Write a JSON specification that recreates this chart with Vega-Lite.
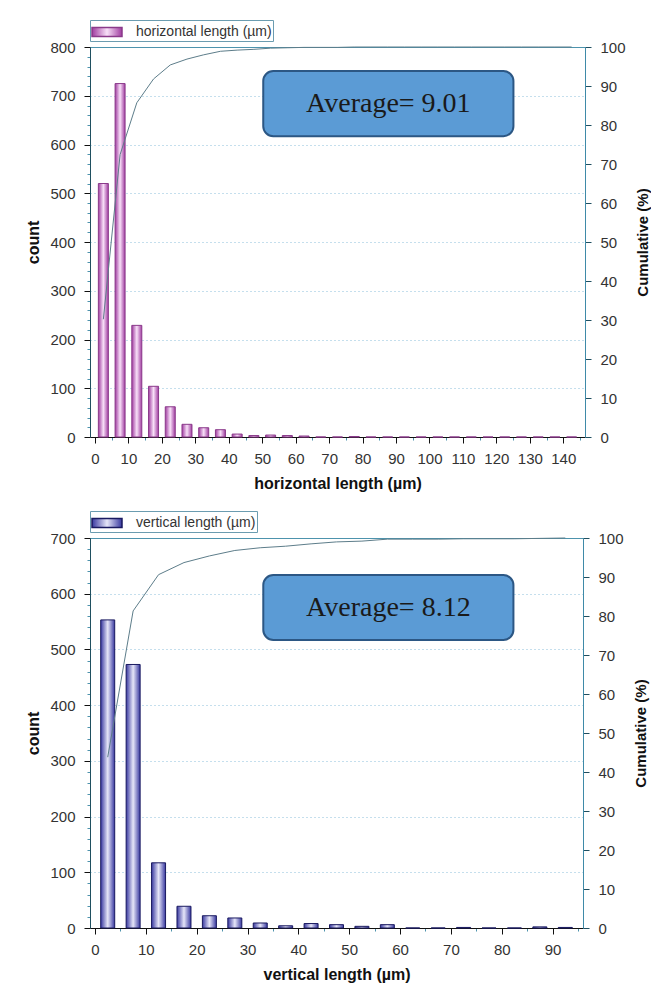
{
  "$schema": "https://vega.github.io/schema/vega-lite/v6.json",
  "background": "white",
  "padding": {"left": 25, "top": 19, "right": 0, "bottom": 5},
  "spacing": 18,
  "resolve": {"scale": {"opacity": "independent"}, "legend": {"opacity": "independent"}},
  "datasets": {
    "h": [
      {"bin": 2.5, "count": 520, "cum": 30.2},
      {"bin": 7.5, "count": 725, "cum": 72.4},
      {"bin": 12.5, "count": 229, "cum": 85.7},
      {"bin": 17.5, "count": 104, "cum": 91.8},
      {"bin": 22.5, "count": 62, "cum": 95.4},
      {"bin": 27.5, "count": 26, "cum": 96.9},
      {"bin": 32.5, "count": 19, "cum": 98.0},
      {"bin": 37.5, "count": 15, "cum": 98.9},
      {"bin": 42.5, "count": 6, "cum": 99.2},
      {"bin": 47.5, "count": 3, "cum": 99.4},
      {"bin": 52.5, "count": 4, "cum": 99.7},
      {"bin": 57.5, "count": 3, "cum": 99.8},
      {"bin": 62.5, "count": 2, "cum": 99.9},
      {"bin": 67.5, "count": 0, "cum": 99.9},
      {"bin": 72.5, "count": 0, "cum": 99.9},
      {"bin": 77.5, "count": 1, "cum": 100},
      {"bin": 82.5, "count": 0, "cum": 100},
      {"bin": 87.5, "count": 0, "cum": 100},
      {"bin": 92.5, "count": 0, "cum": 100},
      {"bin": 97.5, "count": 0, "cum": 100},
      {"bin": 102.5, "count": 0, "cum": 100},
      {"bin": 107.5, "count": 0, "cum": 100},
      {"bin": 112.5, "count": 0, "cum": 100},
      {"bin": 117.5, "count": 0, "cum": 100},
      {"bin": 122.5, "count": 0, "cum": 100},
      {"bin": 127.5, "count": 0, "cum": 100},
      {"bin": 132.5, "count": 0, "cum": 100},
      {"bin": 137.5, "count": 0, "cum": 100},
      {"bin": 142.5, "count": 0, "cum": 100}
    ],
    "v": [
      {"bin": 2.5, "count": 553, "cum": 43.8},
      {"bin": 7.5, "count": 473, "cum": 81.3},
      {"bin": 12.5, "count": 117, "cum": 90.6},
      {"bin": 17.5, "count": 39, "cum": 93.7},
      {"bin": 22.5, "count": 22, "cum": 95.4},
      {"bin": 27.5, "count": 18, "cum": 96.8},
      {"bin": 32.5, "count": 9, "cum": 97.5},
      {"bin": 37.5, "count": 4, "cum": 97.9},
      {"bin": 42.5, "count": 8, "cum": 98.5},
      {"bin": 47.5, "count": 6, "cum": 99.0},
      {"bin": 52.5, "count": 3, "cum": 99.2},
      {"bin": 57.5, "count": 6, "cum": 99.7},
      {"bin": 62.5, "count": 0, "cum": 99.7},
      {"bin": 67.5, "count": 0, "cum": 99.7},
      {"bin": 72.5, "count": 1, "cum": 99.8},
      {"bin": 77.5, "count": 0, "cum": 99.8},
      {"bin": 82.5, "count": 0, "cum": 99.8},
      {"bin": 87.5, "count": 2, "cum": 99.9},
      {"bin": 92.5, "count": 1, "cum": 100}
    ]
  },
  "config": {
    "font": "Liberation Sans",
    "view": {"stroke": "#4d93ad", "strokeWidth": 1},
    "axis": {
      "labelFont": "Liberation Sans",
      "labelFontSize": 15,
      "labelColor": "#333333",
      "titleFont": "Liberation Sans",
      "titleFontSize": 16,
      "titleFontWeight": "bold",
      "titleColor": "#111111",
      "domainColor": "#222222",
      "tickColor": "#222222",
      "labelFlush": false,
      "labelOverlap": false
    },
    "legend": {
      "orient": "top",
      "labelFont": "Liberation Sans",
      "labelFontSize": 14,
      "labelColor": "#333333",
      "strokeColor": "#6b9cb0",
      "padding": 1,
      "offset": 6,
      "labelOffset": 23,
      "symbolType": "M-1,-0.45H2V0.45H-1Z",
      "symbolSize": 400
    }
  },
  "vconcat": [
    {
      "width": 495,
      "height": 390,
      "data": {"name": "h"},
      "layer": [
        {
          "mark": {
            "type": "bar",
            "size": 10,
            "fill": {"gradient": "linear", "x1": 0, "x2": 1, "y1": 0, "y2": 0, "stops": [{"offset": 0, "color": "#a03ca0"}, {"offset": 0.5, "color": "#f8e0f8"}, {"offset": 1, "color": "#a03ca0"}]},
            "stroke": "#8a3a8a",
            "strokeWidth": 1
          },
          "encoding": {
            "x": {
              "field": "bin", "type": "quantitative",
              "scale": {"domain": [0, 145], "nice": false, "zero": false},
              "title": "horizontal length (µm)",
              "axis": {
                "values": [0,5,10,15,20,25,30,35,40,45,50,55,60,65,70,75,80,85,90,95,100,105,110,115,120,125,130,135,140,145],
                "labelExpr": "datum.value % 10 === 0 && datum.value < 145 ? datum.label : ''",
                "tickSize": {"condition": {"test": "datum.value % 10 === 0", "value": 6}, "value": 3},
                "tickColor": {"condition": {"test": "datum.value % 10 === 0", "value": "#111111"}, "value": "#4d93ad"},
                "grid": false, "domainColor": "#111111", "labelPadding": 8, "titlePadding": 9
              }
            },
            "y": {
              "field": "count", "type": "quantitative",
              "scale": {"domain": [0, 800], "nice": false},
              "title": "count",
              "axis": {
                "values": [0,20,40,60,80,100,120,140,160,180,200,220,240,260,280,300,320,340,360,380,400,420,440,460,480,500,520,540,560,580,600,620,640,660,680,700,720,740,760,780,800],
                "labelExpr": "datum.value % 100 === 0 ? datum.label : ''",
                "tickSize": {"condition": {"test": "datum.value % 100 === 0", "value": 6}, "value": 3},
                "tickColor": {"condition": {"test": "datum.value % 100 === 0", "value": "#111111"}, "value": "#4d93ad"},
                "grid": true, "gridColor": "#8cc0dc", "gridDash": [1, 3], "gridWidth": 1.2,
                "gridOpacity": {"condition": {"test": "datum.value % 100 === 0 && datum.value > 0 && datum.value < 800", "value": 1}, "value": 0},
                "domainColor": "#1f4f60", "labelPadding": 9, "titlePadding": 8
              }
            },
            "opacity": {
              "datum": "horizontal length (µm)", "type": "nominal",
              "scale": {"range": [1]},
              "legend": {
                "title": null,
                "encode": {"symbols": {"update": {
                  "fill": {"value": {"gradient": "linear", "x1": 0, "x2": 1, "y1": 0, "y2": 0, "stops": [{"offset": 0, "color": "#a03ca0"}, {"offset": 0.5, "color": "#f8e0f8"}, {"offset": 1, "color": "#a03ca0"}]}},
                  "stroke": {"value": "#8a3a8a"},
                  "strokeWidth": {"value": 0.5}
                }}}
              }
            }
          }
        },
        {
          "mark": {"type": "line", "color": "#5d7d8a", "strokeWidth": 1},
          "encoding": {
            "x": {
              "field": "bin", "type": "quantitative",
              "scale": {"domain": [0, 145], "nice": false, "zero": false},
              "title": "horizontal length (µm)",
              "axis": {
                "values": [0,5,10,15,20,25,30,35,40,45,50,55,60,65,70,75,80,85,90,95,100,105,110,115,120,125,130,135,140,145],
                "labelExpr": "datum.value % 10 === 0 && datum.value < 145 ? datum.label : ''",
                "tickSize": {"condition": {"test": "datum.value % 10 === 0", "value": 6}, "value": 3},
                "tickColor": {"condition": {"test": "datum.value % 10 === 0", "value": "#111111"}, "value": "#4d93ad"},
                "grid": false, "domainColor": "#111111", "labelPadding": 8, "titlePadding": 9
              }
            },
            "y": {
              "field": "cum", "type": "quantitative",
              "scale": {"domain": [0, 100], "nice": false},
              "title": "Cumulative (%)",
              "axis": {
                "orient": "right",
                "values": [0,10,20,30,40,50,60,70,80,90,100],
                "tickSize": 6, "grid": false, "domainColor": "#3f8aa8", "tickColor": "#1f4f60",
                "labelPadding": 9, "titlePadding": 25, "titleAngle": -90, "titleFontSize": 15
              }
            }
          }
        },
        {
          "data": {"values": [{"label": "Average= 9.01"}]},
          "mark": {"type": "rect", "fill": "#5b9bd5", "stroke": "#2c5784", "strokeWidth": 2, "cornerRadius": 10},
          "encoding": {
            "x": {
              "datum": 50.3, "type": "quantitative",
              "scale": {"domain": [0, 145], "nice": false, "zero": false},
              "title": "horizontal length (µm)",
              "axis": {
                "values": [0,5,10,15,20,25,30,35,40,45,50,55,60,65,70,75,80,85,90,95,100,105,110,115,120,125,130,135,140,145],
                "labelExpr": "datum.value % 10 === 0 && datum.value < 145 ? datum.label : ''",
                "tickSize": {"condition": {"test": "datum.value % 10 === 0", "value": 6}, "value": 3},
                "tickColor": {"condition": {"test": "datum.value % 10 === 0", "value": "#111111"}, "value": "#4d93ad"},
                "grid": false, "domainColor": "#111111", "labelPadding": 8, "titlePadding": 9
              }
            },
            "x2": {"datum": 125.1},
            "y": {"datum": 750.7, "type": "quantitative", "scale": {"domain": [0, 800], "nice": false}, "axis": null},
            "y2": {"datum": 617}
          }
        },
        {
          "data": {"values": [{"label": "Average= 9.01"}]},
          "mark": {"type": "text", "font": "Liberation Serif", "fontSize": 28, "color": "#1a1a1a", "align": "center", "baseline": "middle"},
          "encoding": {
            "x": {
              "datum": 87.7, "type": "quantitative",
              "scale": {"domain": [0, 145], "nice": false, "zero": false},
              "title": "horizontal length (µm)",
              "axis": {
                "values": [0,5,10,15,20,25,30,35,40,45,50,55,60,65,70,75,80,85,90,95,100,105,110,115,120,125,130,135,140,145],
                "labelExpr": "datum.value % 10 === 0 && datum.value < 145 ? datum.label : ''",
                "tickSize": {"condition": {"test": "datum.value % 10 === 0", "value": 6}, "value": 3},
                "tickColor": {"condition": {"test": "datum.value % 10 === 0", "value": "#111111"}, "value": "#4d93ad"},
                "grid": false, "domainColor": "#111111", "labelPadding": 8, "titlePadding": 9
              }
            },
            "y": {"datum": 684, "type": "quantitative", "scale": {"domain": [0, 800], "nice": false}, "axis": null},
            "text": {"field": "label"}
          }
        }
      ],
      "resolve": {"scale": {"y": "independent"}}
    },
    {
      "width": 493,
      "height": 390,
      "data": {"name": "v"},
      "layer": [
        {
          "mark": {
            "type": "bar",
            "size": 14,
            "fill": {"gradient": "linear", "x1": 0, "x2": 1, "y1": 0, "y2": 0, "stops": [{"offset": 0, "color": "#3838a0"}, {"offset": 0.5, "color": "#e6e6f8"}, {"offset": 1, "color": "#3838a0"}]},
            "stroke": "#1a1a60",
            "strokeWidth": 1
          },
          "encoding": {
            "x": {
              "field": "bin", "type": "quantitative",
              "scale": {"domain": [0, 95], "nice": false, "zero": false},
              "title": "vertical length (µm)",
              "axis": {
                "values": [0,5,10,15,20,25,30,35,40,45,50,55,60,65,70,75,80,85,90,95],
                "labelExpr": "datum.value % 10 === 0 ? datum.label : ''",
                "tickSize": {"condition": {"test": "datum.value % 10 === 0", "value": 6}, "value": 3},
                "tickColor": {"condition": {"test": "datum.value % 10 === 0", "value": "#111111"}, "value": "#4d93ad"},
                "grid": false, "domainColor": "#111111", "labelPadding": 8, "titlePadding": 9
              }
            },
            "y": {
              "field": "count", "type": "quantitative",
              "scale": {"domain": [0, 700], "nice": false},
              "title": "count",
              "axis": {
                "values": [0,20,40,60,80,100,120,140,160,180,200,220,240,260,280,300,320,340,360,380,400,420,440,460,480,500,520,540,560,580,600,620,640,660,680,700],
                "labelExpr": "datum.value % 100 === 0 ? datum.label : ''",
                "tickSize": {"condition": {"test": "datum.value % 100 === 0", "value": 6}, "value": 3},
                "tickColor": {"condition": {"test": "datum.value % 100 === 0", "value": "#111111"}, "value": "#4d93ad"},
                "grid": true, "gridColor": "#8cc0dc", "gridDash": [1, 3], "gridWidth": 1.2,
                "gridOpacity": {"condition": {"test": "datum.value % 100 === 0 && datum.value > 0 && datum.value < 700", "value": 1}, "value": 0},
                "domainColor": "#1f4f60", "labelPadding": 9, "titlePadding": 8
              }
            },
            "opacity": {
              "datum": "vertical length (µm)", "type": "nominal",
              "scale": {"range": [1]},
              "legend": {
                "title": null,
                "encode": {"symbols": {"update": {
                  "fill": {"value": {"gradient": "linear", "x1": 0, "x2": 1, "y1": 0, "y2": 0, "stops": [{"offset": 0, "color": "#3838a0"}, {"offset": 0.5, "color": "#e6e6f8"}, {"offset": 1, "color": "#3838a0"}]}},
                  "stroke": {"value": "#1a1a60"},
                  "strokeWidth": {"value": 0.5}
                }}}
              }
            }
          }
        },
        {
          "mark": {"type": "line", "color": "#5d7d8a", "strokeWidth": 1},
          "encoding": {
            "x": {
              "field": "bin", "type": "quantitative",
              "scale": {"domain": [0, 95], "nice": false, "zero": false},
              "title": "vertical length (µm)",
              "axis": {
                "values": [0,5,10,15,20,25,30,35,40,45,50,55,60,65,70,75,80,85,90,95],
                "labelExpr": "datum.value % 10 === 0 ? datum.label : ''",
                "tickSize": {"condition": {"test": "datum.value % 10 === 0", "value": 6}, "value": 3},
                "tickColor": {"condition": {"test": "datum.value % 10 === 0", "value": "#111111"}, "value": "#4d93ad"},
                "grid": false, "domainColor": "#111111", "labelPadding": 8, "titlePadding": 9
              }
            },
            "y": {
              "field": "cum", "type": "quantitative",
              "scale": {"domain": [0, 100], "nice": false},
              "title": "Cumulative (%)",
              "axis": {
                "orient": "right",
                "values": [0,10,20,30,40,50,60,70,80,90,100],
                "tickSize": 6, "grid": false, "domainColor": "#3f8aa8", "tickColor": "#1f4f60",
                "labelPadding": 9, "titlePadding": 25, "titleAngle": -90, "titleFontSize": 15
              }
            }
          }
        },
        {
          "data": {"values": [{"label": "Average= 8.12"}]},
          "mark": {"type": "rect", "fill": "#5b9bd5", "stroke": "#2c5784", "strokeWidth": 2, "cornerRadius": 10},
          "encoding": {
            "x": {
              "datum": 33.1, "type": "quantitative",
              "scale": {"domain": [0, 95], "nice": false, "zero": false},
              "title": "vertical length (µm)",
              "axis": {
                "values": [0,5,10,15,20,25,30,35,40,45,50,55,60,65,70,75,80,85,90,95],
                "labelExpr": "datum.value % 10 === 0 ? datum.label : ''",
                "tickSize": {"condition": {"test": "datum.value % 10 === 0", "value": 6}, "value": 3},
                "tickColor": {"condition": {"test": "datum.value % 10 === 0", "value": "#111111"}, "value": "#4d93ad"},
                "grid": false, "domainColor": "#111111", "labelPadding": 8, "titlePadding": 9
              }
            },
            "x2": {"datum": 82.3},
            "y": {"datum": 633.6, "type": "quantitative", "scale": {"domain": [0, 700], "nice": false}, "axis": null},
            "y2": {"datum": 517}
          }
        },
        {
          "data": {"values": [{"label": "Average= 8.12"}]},
          "mark": {"type": "text", "font": "Liberation Serif", "fontSize": 28, "color": "#1a1a1a", "align": "center", "baseline": "middle"},
          "encoding": {
            "x": {
              "datum": 57.7, "type": "quantitative",
              "scale": {"domain": [0, 95], "nice": false, "zero": false},
              "title": "vertical length (µm)",
              "axis": {
                "values": [0,5,10,15,20,25,30,35,40,45,50,55,60,65,70,75,80,85,90,95],
                "labelExpr": "datum.value % 10 === 0 ? datum.label : ''",
                "tickSize": {"condition": {"test": "datum.value % 10 === 0", "value": 6}, "value": 3},
                "tickColor": {"condition": {"test": "datum.value % 10 === 0", "value": "#111111"}, "value": "#4d93ad"},
                "grid": false, "domainColor": "#111111", "labelPadding": 8, "titlePadding": 9
              }
            },
            "y": {"datum": 575, "type": "quantitative", "scale": {"domain": [0, 700], "nice": false}, "axis": null},
            "text": {"field": "label"}
          }
        }
      ],
      "resolve": {"scale": {"y": "independent"}}
    }
  ]
}
